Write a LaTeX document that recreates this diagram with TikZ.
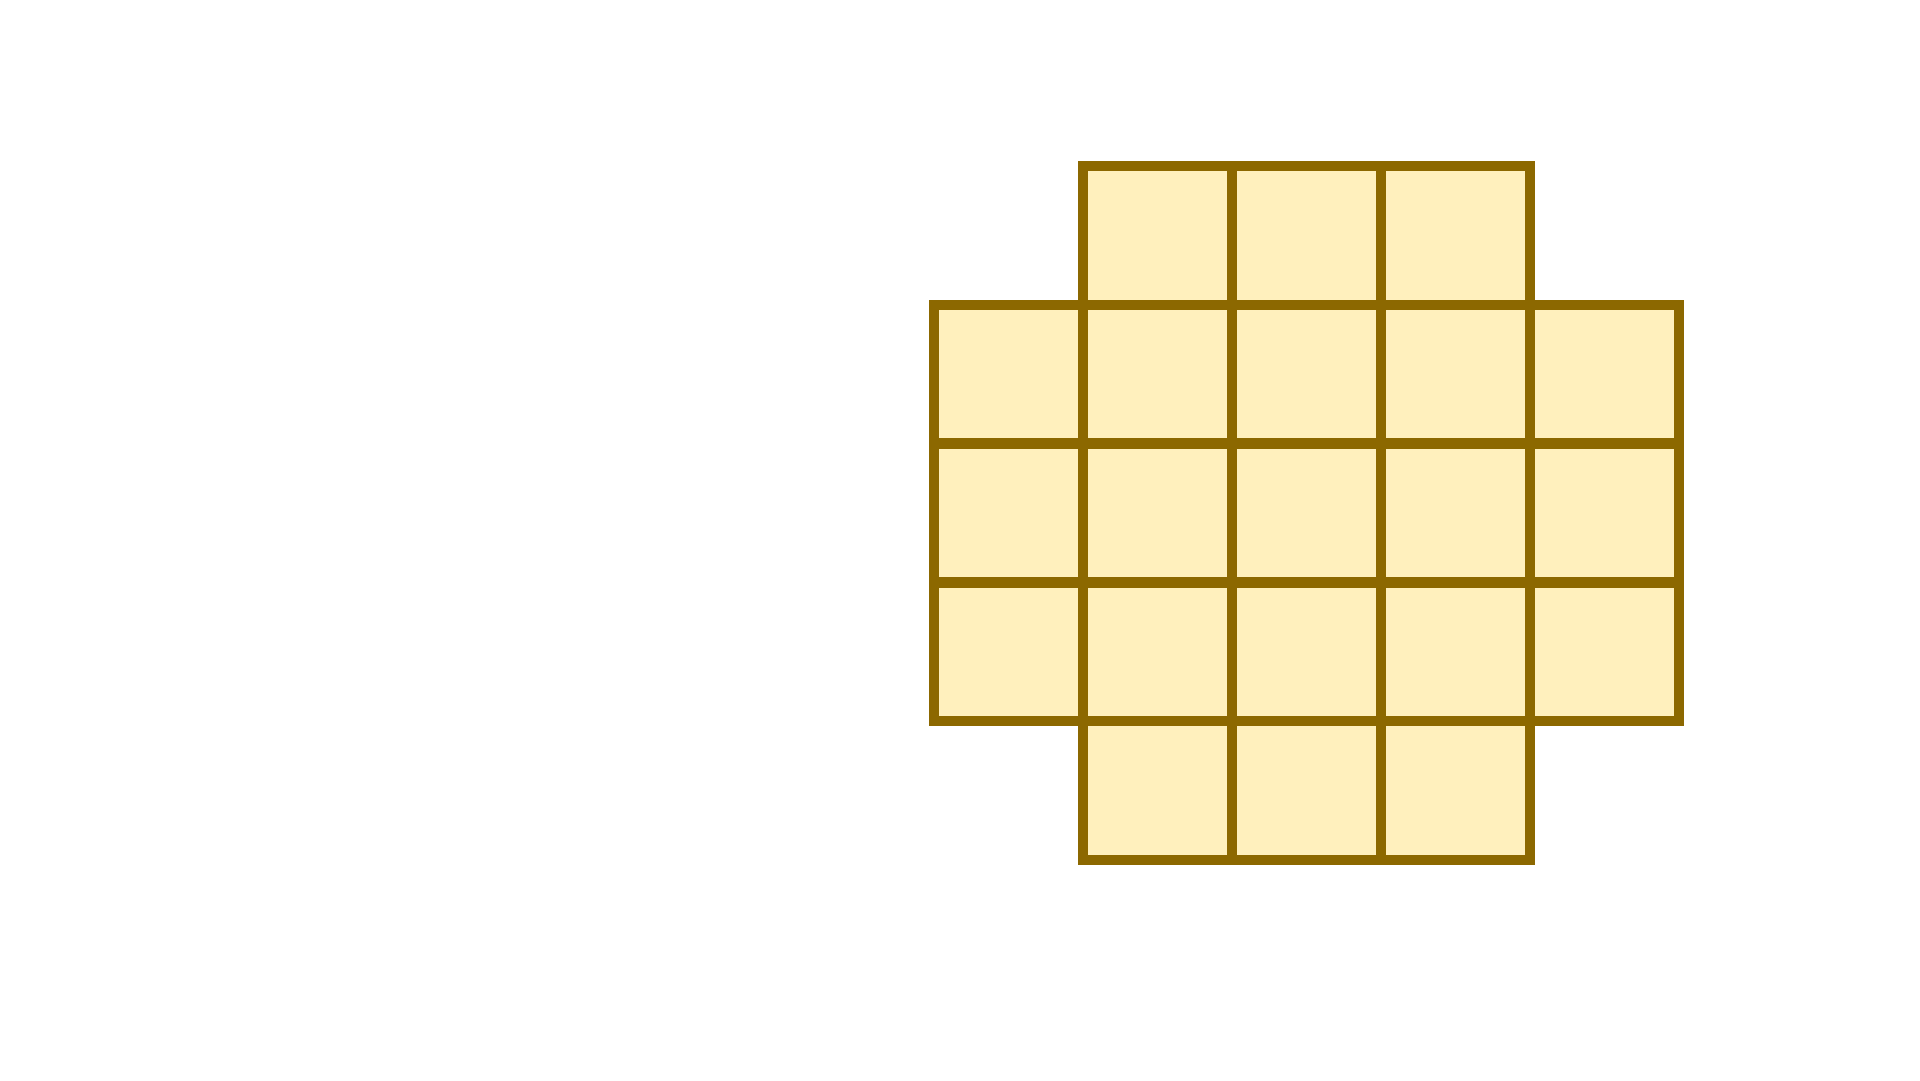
\documentclass[tikz,border=0pt]{standalone}
\definecolor{edgegold}{RGB}{140,104,0}
\definecolor{cellfill}{RGB}{255,240,189}
\begin{document}
\begin{tikzpicture}[x=1pt,y=1pt,
  cell/.style={draw=edgegold,fill=cellfill,line width=10.5pt,rectangle,inner sep=0pt,
    minimum width=149pt,minimum height=138.8pt}]
\useasboundingbox (0,0) rectangle (1920,1080);
\foreach \r/\cs in {0/{1,2,3},1/{0,1,2,3,4},2/{0,1,2,3,4},3/{0,1,2,3,4},4/{1,2,3}}{
  \foreach \c in \cs {
    \node[cell] (c\r\c) at ({934+149*\c+74.5},{1080-(166+138.8*\r+69.4)}) {};
  }
}
\end{tikzpicture}
\end{document}
